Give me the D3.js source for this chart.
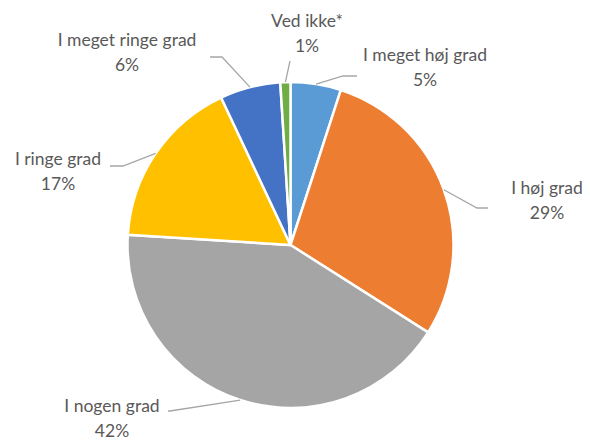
<!DOCTYPE html>
<html>
<head>
<meta charset="utf-8">
<script src="https://cdn.jsdelivr.net/npm/d3@7"></script>
<style>
  body { margin: 0; background: #fff; }
  text { font-family: Lato, "Open Sans", sans-serif; font-size: 17.5px; fill: #595959; }
</style>
</head>
<body>
<div id="chart"></div>
<script>
const categories = ["I meget høj grad", "I høj grad", "I nogen grad", "I ringe grad", "I meget ringe grad", "Ved ikke*"];
const values = [5, 29, 42, 17, 6, 1];
const colors = ["#5B9BD5", "#ED7D31", "#A5A5A5", "#FFC000", "#4472C4", "#70AD47"];

// label placement: text centre, elbow of leader, end of leader
const labelLayout = [
  { tx: 425, ty: 61, ex: 343, ey: 76, hx: 357 },
  { tx: 547, ty: 194, ex: 477, ey: 208, hx: 488 },
  { tx: 112, ty: 412, ex: 170, ey: 411, hx: 168 },
  { tx: 58, ty: 165, ex: 123, ey: 166, hx: 110 },
  { tx: 127, ty: 46, ex: 222, ey: 57, hx: 210 },
  { tx: 307, ty: 27, ex: 290, ey: 61, hx: 290 }
];

const svgWidth = 590;
const svgHeight = 444;
const cx = 290.5, cy = 245, radius = 163;

const svg = d3.select("#chart")
  .append("svg")
  .attr("width", svgWidth)
  .attr("height", svgHeight);

const data = categories.map((c, i) => ({ name: c, value: values[i], color: colors[i], lay: labelLayout[i] }));

const pie = d3.pie().value(d => d.value).sort(null);
const arc = d3.arc().innerRadius(0).outerRadius(radius);
const arcs = pie(data);

const g = svg.append("g").attr("transform", `translate(${cx},${cy})`);

g.selectAll("path.slice")
  .data(arcs)
  .enter()
  .append("path")
  .attr("class", "slice")
  .attr("d", arc)
  .attr("fill", d => d.data.color)
  .attr("stroke", "#fff")
  .attr("stroke-width", 2.5);

// leader lines
g.selectAll("polyline")
  .data(arcs)
  .enter()
  .append("polyline")
  .attr("points", d => {
    const a = (d.startAngle + d.endAngle) / 2;
    const x0 = radius * Math.sin(a), y0 = -radius * Math.cos(a);
    const l = d.data.lay;
    return [[x0, y0], [l.ex - cx, l.ey - cy], [l.hx - cx, l.ey - cy]].join(" ");
  })
  .attr("fill", "none")
  .attr("stroke", "#A6A6A6")
  .attr("stroke-width", 1.3);

const labels = svg.selectAll("g.label")
  .data(arcs)
  .enter()
  .append("g")
  .attr("class", "label");

labels.append("text")
  .attr("x", d => d.data.lay.tx)
  .attr("y", d => d.data.lay.ty)
  .attr("text-anchor", "middle")
  .text(d => d.data.name);

labels.append("text")
  .attr("x", d => d.data.lay.tx)
  .attr("y", d => d.data.lay.ty + 25)
  .attr("text-anchor", "middle")
  .text(d => d.data.value + "%");
</script>
</body>
</html>
